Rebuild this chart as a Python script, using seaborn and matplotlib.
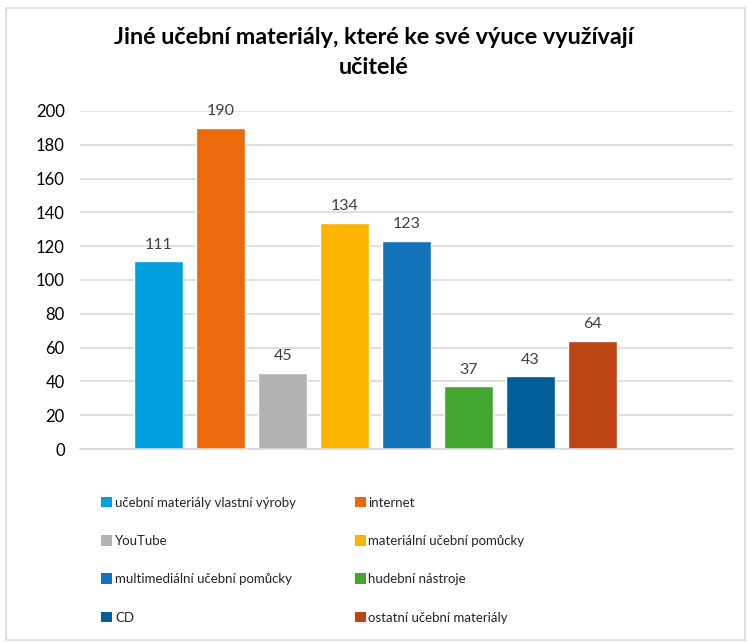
import matplotlib
matplotlib.use("Agg")
import matplotlib.pyplot as plt
import seaborn as sns
from matplotlib.patches import Patch, Rectangle

categories = [
    "učební materiály vlastní výroby",
    "internet",
    "YouTube",
    "materiální učební pomůcky",
    "multimediální učební pomůcky",
    "hudební nástroje",
    "CD",
    "ostatní učební materiály",
]
values = [111, 190, 45, 134, 123, 37, 43, 64]
colors = ["#009FE0", "#EC6A0C", "#B2B2B2", "#FBB400",
          "#1272BA", "#43A72F", "#005F98", "#BC4516"]
yticks = [0, 20, 40, 60, 80, 100, 120, 140, 160, 180, 200]
title = "Jiné učební materiály, které ke své výuce využívají\nučitelé"

sns.set_style("white")
plt.rcParams["font.family"] = ["Lato", "DejaVu Sans"]

fig = plt.figure(figsize=(7.48, 6.43), dpi=100)
ax = fig.add_axes([0.107, 0.3017, 0.873, 0.5257])

sns.barplot(x=categories, y=values, hue=categories, palette=colors,
            legend=False, width=0.79, saturation=1, ax=ax)

for cont in ax.containers:
    ax.bar_label(cont, padding=7, fontsize=11.5, color="#404040")

ax.set_xlim(-1.27, 9.27)
ax.set_ylim(0, 200)
ax.set_yticks(yticks)
ax.set_yticklabels([str(t) for t in yticks], fontsize=12, color="#000000")
ax.set_xticks([])
ax.set_xlabel("")
ax.set_ylabel("")
ax.tick_params(axis="y", length=0, pad=11)
ax.yaxis.grid(True, color="#D9D9D9", linewidth=1.2)
ax.set_axisbelow(True)
for side in ["top", "right", "left"]:
    ax.spines[side].set_visible(False)
ax.spines["bottom"].set_color("#D9D9D9")
ax.spines["bottom"].set_linewidth(1.2)

fig.suptitle(title, x=0.5, y=0.958, fontsize=16.8, fontweight="bold",
             color="#000000", linespacing=1.55)

# legend in two columns, filled row by row
handles = [Patch(facecolor=c, edgecolor="none") for c in colors]
for col, x0 in [(0, 0.128), (1, 0.467)]:
    idx = list(range(col, len(categories), 2))
    fig.legend([handles[i] for i in idx], [categories[i] for i in idx],
               loc="upper left", bbox_to_anchor=(x0, 0.236), frameon=False,
               fontsize=9.5, handlelength=0.85, handleheight=0.85,
               handletextpad=0.2, labelspacing=2.0, borderaxespad=0)

fig.patches.append(Rectangle((0.008, 0.004), 0.988, 0.984, transform=fig.transFigure,
                             fill=False, edgecolor="#D9D9D9", linewidth=1.2))

fig.savefig("out.png", dpi=100)
